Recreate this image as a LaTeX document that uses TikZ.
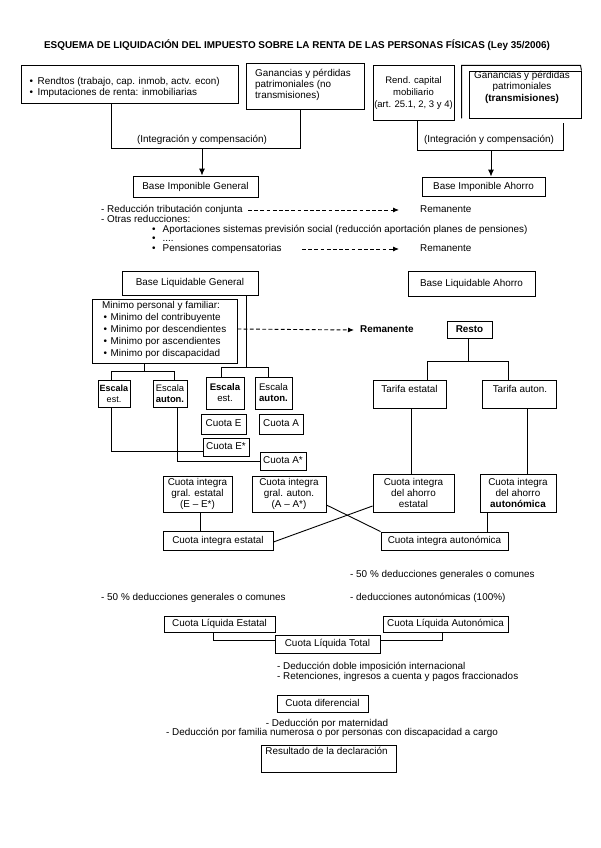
\documentclass[tikz,border=0pt]{standalone}
\usepackage{fontspec}
\setmainfont{Liberation Sans}
\usetikzlibrary{arrows.meta,calc}
\newcommand\myfs{\fontsize{9.9}{11.5}\selectfont}
\begin{document}
\begin{tikzpicture}[x=1pt,y=-1pt,
  bx/.style={draw,line width=0.9pt,inner sep=0pt,align=center,font=\myfs},
  bx1/.style={bx,text height=7pt,text depth=2pt},
  sz/.style 2 args={minimum width=#1pt,minimum height=#2pt},
  txt/.style={inner sep=0pt,font=\myfs,text height=7pt,text depth=2pt,anchor=west},
  mtxt/.style={inner sep=0pt,font=\myfs,align=left,anchor=west},
  ln/.style={line width=0.9pt},
  dsh/.style={line width=0.9pt,dash pattern=on 3.8pt off 2.4pt,-{Latex[length=6pt,width=5pt]}},
  arr/.style={line width=0.9pt,-{Latex[length=7pt,width=6pt]}}]
\useasboundingbox[fill=white] (0,0) rectangle (600,848);

% title
\node[inner sep=0pt,font=\bfseries\fontsize{9.9}{11}\selectfont] (title) at (297,45)
  {ESQUEMA DE LIQUIDACIÓN DEL IMPUESTO SOBRE LA RENTA DE LAS PERSONAS FÍSICAS (Ley 35/2006)};

% top boxes
\node[bx,sz={217}{38}] (b1) at (129.5,84) {};
\node[mtxt,font=\fontsize{9.9}{11}\selectfont] (b1t) at (29.5,87.5)
  {•\hspace*{4.5pt}Rendtos (trabajo, cap. inmob, actv. econ)\\•\hspace*{4.5pt}Imputaciones de renta: inmobiliarias};
\node[bx,sz={118}{46}] (b2) at (305,86) {};
\node[mtxt,font=\fontsize{9.9}{11}\selectfont] (b2t) at (255,84.5) {Ganancias y pérdidas\\patrimoniales (no\\transmisiones)};
\node[bx,sz={81}{55},font=\fontsize{9.5}{12}\selectfont] (b3) at (413.5,93) {Rend. capital\\mobiliario\\(art. 25.1, 2, 3 y 4)};
\node[bx,sz={112}{47}] (b4) at (525,94.5) {};
\draw[ln] ($(b4.south west)+(-7,0)$) -- ++(0,-53) -- ++(119,0) -- (b4.north east);
\node[mtxt,align=center,anchor=center] (b4t) at (522,87) {Ganancias y pérdidas\\patrimoniales\\\textbf{(transmisiones)}};

% integration brackets
\coordinate (c1a) at (111,148);
\coordinate (c1b) at (300,148);
\draw[ln] (b1.south -| c1a) -- (c1a) -- (c1b) -- (b2.south -| c1b);
\node[txt,anchor=center] (ic1) at (202,140) {(Integración y compensación)};
\node[bx1,sz={125}{21}] (big) at (195.5,186.5) {Base Imponible General};
\coordinate (a1) at (202,148);
\draw[arr] (a1) -- (big.north -| a1);

\coordinate (c2a) at (417,150);
\coordinate (c2b) at (563,150);
\coordinate (c2c) at (563,123);
\draw[ln] (b3.south -| c2a) -- (c2a) -- (c2b) -- (c2c);
\node[txt,anchor=center] (ic2) at (489,140) {(Integración y compensación)};
\node[bx1,sz={123}{19}] (bia) at (483.5,186.5) {Base Imponible Ahorro};
\coordinate (a2) at (491,150);
\draw[arr] (a2) -- (bia.north -| a2);

% reductions
\node[txt] (t1) at (101,210) {- Reducción tributación conjunta};
\node[txt] (r1) at (420,210) {Remanente};
\coordinate (d1s) at (248,210);
\draw[dsh] (d1s) -- ($(r1.west)+(-21,0)$);
\node[txt] (t2) at (101,220) {- Otras reducciones:};
\node[txt] (t3) at (152,230) {•\hspace*{7pt}Aportaciones sistemas previsión social (reducción aportación planes de pensiones)};
\node[txt] (t4) at (152,239) {•\hspace*{7pt}....};
\node[txt] (t5) at (152,249) {•\hspace*{7pt}Pensiones compensatorias};
\node[txt] (r2) at (420,249) {Remanente};
\coordinate (d2s) at (302,249);
\draw[dsh] (d2s) -- ($(r2.west)+(-21,0)$);

\node[bx1,sz={136}{24}] (blg) at (190,283) {Base Liquidable General};
\node[bx1,sz={127}{25}] (bla) at (471.5,283.5) {Base Liquidable Ahorro};

% minimo
\node[bx,sz={145}{64}] (mn) at (164.5,331) {};
\node[mtxt,font=\fontsize{9.9}{12}\selectfont] (mnt) at (102,330)
  {Minimo personal y familiar:\\
   \hspace*{1.5pt}•\hspace*{3.5pt}Minimo del contribuyente\\
   \hspace*{1.5pt}•\hspace*{3.5pt}Minimo por descendientes\\
   \hspace*{1.5pt}•\hspace*{3.5pt}Minimo por ascendientes\\
   \hspace*{1.5pt}•\hspace*{3.5pt}Minimo por discapacidad};
\node[txt,font=\myfs\bfseries] (r3) at (360,330) {Remanente};
\draw[dsh] ($(mn.east)+(0,-2)$) -- ($(r3.west)+(-6,0)$);

% escalas
\node[bx,sz={32}{27},font=\fontsize{9}{11}\selectfont] (le) at (114,393.5) {\textbf{Escala}\\est.};
\node[bx,sz={34}{27},font=\fontsize{9.4}{11}\selectfont] (la) at (170,393.5) {Escala\\\textbf{auton.}};
\node[bx,sz={38}{32},font=\fontsize{9.6}{11}\selectfont] (re) at (225,393) {\textbf{Escala}\\est.};
\node[bx,sz={37}{32},font=\fontsize{9.6}{11}\selectfont] (ra) at (273.5,393) {Escala\\\textbf{auton.}};

\coordinate (k1) at (144,371);
\coordinate (k2) at (111,371);
\coordinate (k3) at (174,371);
\draw[ln] (mn.south -| k1) -- (k1);
\draw[ln] (le.north -| k2) -- (k2) -- (k3) -- (la.north -| k3);
\coordinate (k5) at (246,367);
\coordinate (k6) at (221,367);
\coordinate (k7) at (268,367);
\draw[ln] (blg.south -| k5) -- (k5);
\draw[ln] (re.north -| k6) -- (k6) -- (k7) -- (ra.north -| k7);

% cuotas
\node[bx1,sz={45}{20}] (ce) at (223.5,424) {Cuota E};
\node[bx1,sz={44}{20}] (ca) at (281,424) {Cuota A};
\node[bx1,sz={46}{18}] (ces) at (226,447) {Cuota E*};
\node[bx1,sz={46}{18}] (cas) at (283,461) {Cuota A*};
\coordinate (k8) at (111,451);
\draw[ln] (le.south -| k8) -- (k8) -- (ces.west |- k8);
\coordinate (k9) at (177,461);
\draw[ln] (la.south -| k9) -- (k9) -- (cas.west |- k9);

\node[bx,sz={69}{36},font=\fontsize{9.9}{10.7}\selectfont] (cge) at (197.5,494) {Cuota integra\\gral. estatal\\(E – E*)};
\node[bx,sz={74}{36},font=\fontsize{9.9}{10.7}\selectfont] (cga) at (289,494) {Cuota integra\\gral. auton.\\(A – A*)};
\node[bx1,sz={110}{19}] (cie) at (218,540.5) {Cuota integra estatal};
\coordinate (k10) at (200,0);
\draw[ln] (cge.south -| k10) -- (cie.north -| k10);

% ahorro side
\node[bx1,sz={45}{17},font=\myfs\bfseries] (resto) at (469.5,329.5) {Resto};
\node[bx,sz={73}{28}] (te) at (409.5,394) {};
\node[txt,anchor=center] (tet) at (409.5,390) {Tarifa estatal};
\node[bx,sz={74}{28}] (ta) at (519,394) {};
\node[txt,anchor=center] (tat) at (520,390) {Tarifa auton.};
\coordinate (m1) at (468,361);
\coordinate (m2) at (427,361);
\coordinate (m3) at (508,361);
\draw[ln] (resto.south -| m1) -- (m1);
\draw[ln] (te.north -| m2) -- (m2) -- (m3) -- (ta.north -| m3);

\node[bx,sz={81}{38},font=\fontsize{9.9}{11}\selectfont] (cae) at (413.5,493) {Cuota integra\\del ahorro\\estatal};
\node[bx,sz={76}{38},font=\fontsize{9.9}{11}\selectfont] (caa) at (518,493) {Cuota integra\\del ahorro\\\textbf{autonómica}};
\node[bx1,sz={127}{18}] (cia) at (444.5,541) {Cuota integra autonómica};
\coordinate (n1) at (411,0);
\coordinate (n2) at (527,0);
\coordinate (n3) at (487,0);
\draw[ln] (te.south -| n1) -- (cae.north -| n1);
\draw[ln] (ta.south -| n2) -- (caa.north -| n2);
\draw[ln] (caa.south -| n3) -- (cia.north -| n3);
\draw[ln] ($(cae.west)+(0,13)$) -- ($(cie.east)+(0,1.5)$);
\draw[ln] ($(cga.east)+(0,11)$) -- (cia.north west);

% deducciones
\node[txt] (t6) at (350,575) {- 50 \% deducciones generales o comunes};
\node[txt] (t7) at (101,598) {- 50 \% deducciones generales o comunes};
\node[txt] (t8) at (350,598) {- deducciones autonómicas (100\%)};

\node[bx1,sz={111}{16}] (cle) at (219.5,624) {Cuota Líquida Estatal};
\node[bx1,sz={125}{16}] (cla) at (445.5,624) {Cuota Líquida Autonómica};
\node[bx1,sz={105}{18}] (clt) at (327.5,644) {Cuota Líquida Total};
\coordinate (p1) at (213,640);
\coordinate (p2) at (442,640);
\draw[ln] (cle.south -| p1) -- (p1) -- (clt.west |- p1);
\draw[ln] (cla.south -| p2) -- (p2) -- (clt.east |- p2);

\node[txt] (t9a) at (277,667) {- Deducción doble imposición internacional};
\node[txt] (t9b) at (277,677) {- Retenciones, ingresos a cuenta y pagos fraccionados};

\node[bx1,sz={91}{17}] (cdf) at (322.5,703.5) {Cuota diferencial};
\node[txt,anchor=center] (t10) at (327,724) {- Deducción por maternidad};
\node[txt,anchor=center] (t11) at (332,733) {- Deducción por familia numerosa o por personas con discapacidad a cargo};

\node[bx,sz={135}{27}] (res) at (328.5,758.5) {};
\node[txt,anchor=center] (rest) at (326.5,752) {Resultado de la declaración};
\end{tikzpicture}
\end{document}
